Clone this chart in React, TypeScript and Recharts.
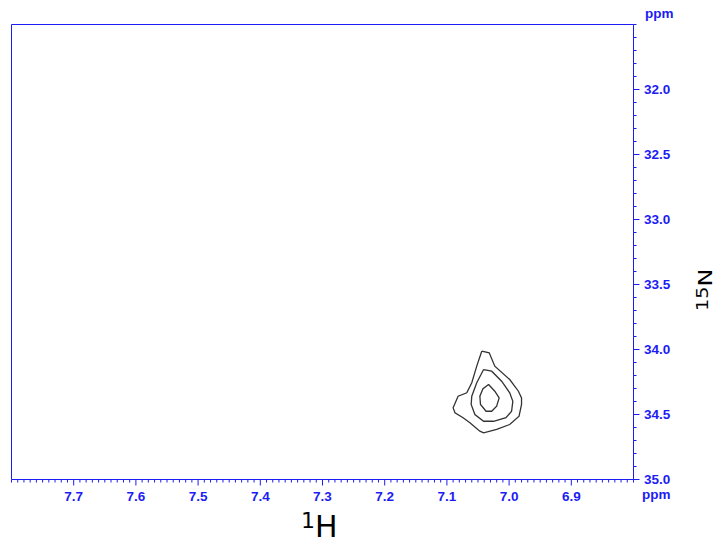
import React from 'react';
import { ScatterChart, Scatter, XAxis, YAxis, ReferenceArea } from 'recharts';

// 1H (ppm) major tick labels
const X_MAJOR = [7.7, 7.6, 7.5, 7.4, 7.3, 7.2, 7.1, 7.0, 6.9];
// 15N (ppm) major tick labels
const Y_MAJOR = [32.0, 32.5, 33.0, 33.5, 34.0, 34.5, 35.0];

// contour levels (1H ppm, 15N ppm)
const outerContour = [
  { x: 7.044, y: 34.013 }, { x: 7.032, y: 34.025 }, { x: 7.023, y: 34.128 },
  { x: 6.999, y: 34.231 }, { x: 6.985, y: 34.321 }, { x: 6.980, y: 34.372 },
  { x: 6.980, y: 34.423 }, { x: 6.984, y: 34.513 }, { x: 6.999, y: 34.577 },
  { x: 7.020, y: 34.615 }, { x: 7.041, y: 34.641 }, { x: 7.047, y: 34.628 },
  { x: 7.063, y: 34.564 }, { x: 7.074, y: 34.525 }, { x: 7.087, y: 34.487 },
  { x: 7.090, y: 34.449 }, { x: 7.082, y: 34.359 }, { x: 7.068, y: 34.333 },
  { x: 7.060, y: 34.256 }, { x: 7.052, y: 34.128 }, { x: 7.044, y: 34.013 },
];
const middleContour = [
  { x: 7.041, y: 34.154 }, { x: 7.028, y: 34.167 }, { x: 7.012, y: 34.244 },
  { x: 6.999, y: 34.333 }, { x: 6.994, y: 34.398 }, { x: 6.996, y: 34.475 },
  { x: 7.005, y: 34.525 }, { x: 7.025, y: 34.552 }, { x: 7.041, y: 34.552 },
  { x: 7.055, y: 34.500 }, { x: 7.061, y: 34.423 }, { x: 7.060, y: 34.359 },
  { x: 7.052, y: 34.256 }, { x: 7.041, y: 34.154 },
];
const innerContour = [
  { x: 7.033, y: 34.269 }, { x: 7.023, y: 34.321 }, { x: 7.016, y: 34.372 },
  { x: 7.020, y: 34.436 }, { x: 7.028, y: 34.475 }, { x: 7.037, y: 34.475 },
  { x: 7.046, y: 34.423 }, { x: 7.047, y: 34.359 }, { x: 7.042, y: 34.302 },
  { x: 7.033, y: 34.269 },
];

const X_DOMAIN: [number, number] = [6.8, 7.8];
const Y_DOMAIN: [number, number] = [31.5, 35.0];

const xTicks: number[] = [];
for (let i = 0; i <= 100; i++) xTicks.push(+(6.8 + i * 0.01).toFixed(2));
const yTicks: number[] = [];
for (let i = 0; i <= 35; i++) yTicks.push(+(31.5 + i * 0.1).toFixed(1));

const BLUE = '#1c1cf5';
const FONT = '"Liberation Sans", Arial, sans-serif';
const FS = 13.5;
const W = 723;
const H = 542;
const LEFT = 11.5;
const RIGHT_EDGE = 633.5;
const TOP = 24.5;
const BOTTOM = 479.5;

const isMajor = (arr: number[], v: number) => arr.some((m) => Math.abs(m - v) < 1e-6);

const XTick = (props: any) => {
  const { x, payload } = props;
  const v = payload.value;
  const major = isMajor(X_MAJOR, v);
  return (
    <g>
      <line x1={x} x2={x} y1={BOTTOM} y2={BOTTOM + (major ? 6 : 3)} stroke={BLUE} strokeWidth={1} />
      {major && (
        <text x={x} y={501} textAnchor="middle" fill={BLUE} fontFamily={FONT} fontWeight="bold" fontSize={FS}>
          {v.toFixed(1)}
        </text>
      )}
    </g>
  );
};

const YTick = (props: any) => {
  const { y, payload } = props;
  const v = payload.value;
  const major = isMajor(Y_MAJOR, v);
  return (
    <g>
      <line x1={RIGHT_EDGE} x2={RIGHT_EDGE + (major ? 6 : 3)} y1={y} y2={y} stroke={BLUE} strokeWidth={1} />
      {major && (
        <text x={644} y={y + 4.8} textAnchor="start" fill={BLUE} fontFamily={FONT} fontWeight="bold" fontSize={FS}>
          {v.toFixed(1)}
        </text>
      )}
    </g>
  );
};

const XLabel = () => (
  <g>
    <text x={301} y={537} fill="#000" fontFamily='"DejaVu Sans", sans-serif'>
      <tspan fontSize={22} dy={-9}>1</tspan>
      <tspan fontSize={30} dy={9}>H</tspan>
    </text>
    <text x={645} y={18} fill={BLUE} fontFamily={FONT} fontWeight="bold" fontSize={FS}>ppm</text>
    <text x={642} y={499} fill={BLUE} fontFamily={FONT} fontWeight="bold" fontSize={FS}>ppm</text>
  </g>
);

const YLabel = () => (
  <text
    x={0}
    y={0}
    transform="translate(712, 311) rotate(-90) scale(1.2, 1)"
    fill="#000"
    fontFamily='"DejaVu Sans", sans-serif'
  >
    <tspan fontSize={16} dy={-4}>15</tspan>
    <tspan fontSize={20} dy={4}>N</tspan>
  </text>
);

const noShape = () => <g />;

export default function App() {
  return (
    <div style={{ position: 'absolute', left: 0, top: 0, width: W, height: H, background: '#fff' }}>
      <ScatterChart
        width={W}
        height={H}
        margin={{ top: TOP, left: LEFT, right: 0, bottom: 0 }}
      >
        <XAxis
          type="number"
          dataKey="x"
          domain={X_DOMAIN}
          reversed
          allowDataOverflow
          ticks={xTicks}
          interval={0}
          tick={<XTick />}
          tickLine={false}
          axisLine={false}
          height={H - BOTTOM}
          label={<XLabel />}
        />
        <YAxis
          type="number"
          dataKey="y"
          orientation="right"
          domain={Y_DOMAIN}
          reversed
          allowDataOverflow
          ticks={yTicks}
          interval={0}
          tick={<YTick />}
          tickLine={false}
          axisLine={false}
          width={W - RIGHT_EDGE}
          label={<YLabel />}
        />
        <ReferenceArea
          x1={X_DOMAIN[0]}
          x2={X_DOMAIN[1]}
          y1={Y_DOMAIN[0]}
          y2={Y_DOMAIN[1]}
          fill="none"
          fillOpacity={0}
          stroke={BLUE}
          strokeWidth={1}
          ifOverflow="visible"
        />
        <Scatter data={outerContour} line={{ stroke: '#333', strokeWidth: 1.3 }} shape={noShape} isAnimationActive={false} />
        <Scatter data={middleContour} line={{ stroke: '#333', strokeWidth: 1.3 }} shape={noShape} isAnimationActive={false} />
        <Scatter data={innerContour} line={{ stroke: '#333', strokeWidth: 1.3 }} shape={noShape} isAnimationActive={false} />
      </ScatterChart>
    </div>
  );
}
